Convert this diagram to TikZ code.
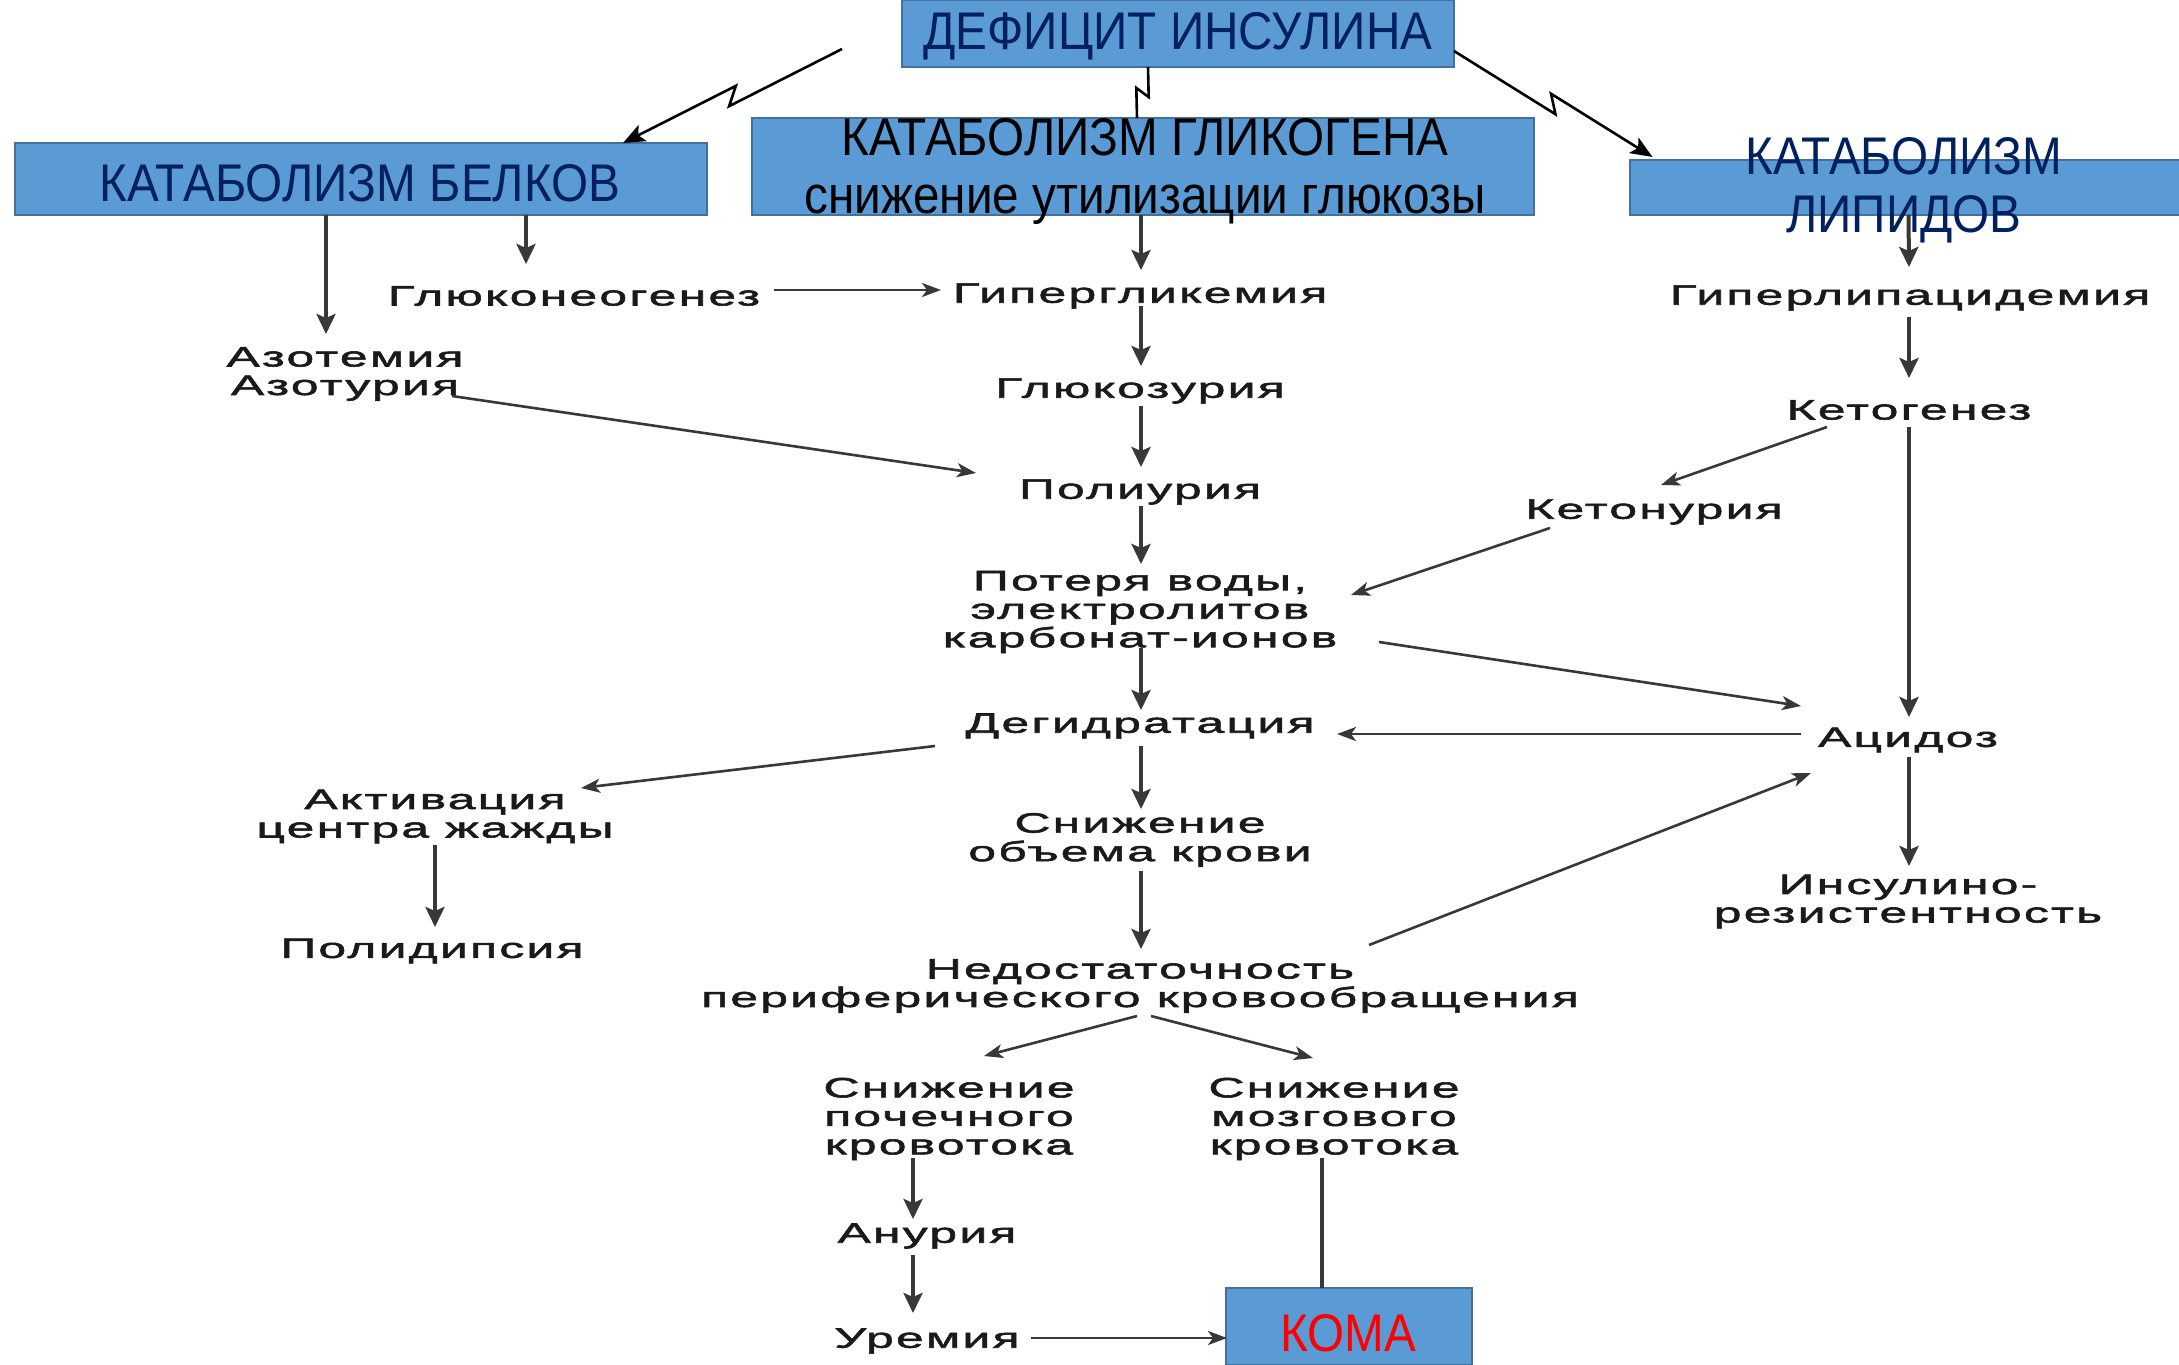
\documentclass[tikz,border=0pt]{standalone}
\usepackage{fontspec}
\setmainfont{Liberation Sans}
\newfontfamily\dfont[FakeStretch=1.78,LetterSpace=8,FakeBold=2]{Liberation Sans}
\newfontfamily\bxfont[FakeStretch=0.9]{Liberation Sans}
\usetikzlibrary{arrows.meta,calc}
\definecolor{boxfill}{HTML}{5B9BD5}
\definecolor{boxedge}{HTML}{41719C}
\definecolor{navy}{HTML}{002060}
\definecolor{lncol}{HTML}{383838}
\definecolor{txcol}{HTML}{1A1A1A}
\begin{document}
\begin{tikzpicture}[x=1pt,y=-1pt,
  bx/.style={draw=boxedge, fill=boxfill, line width=1.8pt, inner sep=0pt},
  bt/.style={font=\bxfont\fontsize{53}{58}\selectfont, align=center, inner sep=0pt},
  tx/.style={font=\dfont\fontsize{28}{28.5}\selectfont, align=center, inner sep=0pt, text=txcol},
  va/.style={draw=lncol, line width=4pt, -{Stealth[length=20pt,width=19pt,inset=4pt]}},
  da/.style={draw=lncol, line width=2.6pt, -{Stealth[length=19pt,width=14pt,inset=5pt]}},
  zz/.style={draw=black, line width=2.6pt}]
\path[fill=white, use as bounding box] (0,0) rectangle (2179,1365);

% ---- boxes
\node[bx, minimum width=552pt, minimum height=67pt] (def) at (1178,33.5) {};
\node[bt, text=navy] (deft) at (1178,36) {ДЕФИЦИТ ИНСУЛИНА};
\node[bx, minimum width=692pt, minimum height=72pt] (belk) at (361,179) {};
\node[bt, text=navy] (belkt) at (360,183) {КАТАБОЛИЗМ БЕЛКОВ};
\node[bx, minimum width=782pt, minimum height=97pt] (glyk) at (1143,166.5) {};
\node[bt, text=black] (glykt) at (1145,171) {КАТАБОЛИЗМ ГЛИКОГЕНА\\снижение утилизации глюкозы};
\node[bx, minimum width=552pt, minimum height=55pt] (lip) at (1906,187.5) {};
\node[bt, text=navy] (lipt) at (1904,190) {КАТАБОЛИЗМ\\ЛИПИДОВ};
\node[bx, minimum width=246pt, minimum height=77pt] (koma) at (1349,1326.5) {};
\node[bt, text=red] (komat) at (1348,1333) {КОМА};

% ---- text nodes
\node[tx] (gng) at (574,296) {Глюконеогенез};
\node[tx] (hgl) at (1140,296) {Гипергликемия};
\node[tx] (hlp) at (1910,298) {Гиперлипацидемия};
\node[tx] (azt) at (345,374) {Азотемия\\Азотурия};
\node[tx] (glz) at (1140,391) {Глюкозурия};
\node[tx] (ktg) at (1909,410) {Кетогенез};
\node[tx] (pol) at (1140,492) {Полиурия};
\node[tx] (ktn) at (1654,512) {Кетонурия};
\node[tx] (pot) at (1140,612) {Потеря воды,\\электролитов\\карбонат-ионов};
\node[tx] (deg) at (1140,726) {Дегидратация};
\node[tx] (acd) at (1908,740) {Ацидоз};
\node[tx] (akt) at (435,816.5) {Активация\\центра жажды};
\node[tx] (snv) at (1140,840) {Снижение\\объема крови};
\node[tx] (ins) at (1908,901.5) {Инсулино-\\резистентность};
\node[tx] (pld) at (432,951) {Полидипсия};
\node[tx] (ned) at (1140,986) {Недостаточность\\периферического кровообращения};
\node[tx] (spk) at (949,1119) {Снижение\\почечного\\кровотока};
\node[tx] (smk) at (1334,1119) {Снижение\\мозгового\\кровотока};
\node[tx] (anu) at (927,1236) {Анурия};
\node[tx] (ure) at (927,1341) {Уремия};

% ---- zigzag connectors from the top box
\coordinate (z1a) at ([shift={(-336,15.5)}]def.center);
\coordinate (z1b) at ([shift={(262,-36)}]belk.center);
\draw[zz,-{Stealth[length=22pt,width=18pt,inset=5pt]}] (z1a) -- ($(z1a)!0.53!(z1b)!8pt!90:(z1b)$) -- ($(z1a)!0.47!(z1b)!8pt!-90:(z1b)$) -- (z1b);
\coordinate (z2a) at ([shift={(-30,33.5)}]def.center);
\coordinate (z2b) at ([shift={(-6,-48.5)}]glyk.center);
\draw[zz] (z2a) -- ($(z2a)!0.56!(z2b)!7pt!90:(z2b)$) -- ($(z2a)!0.44!(z2b)!7pt!-90:(z2b)$) -- (z2b);
\coordinate (z3a) at ([shift={(276,17.5)}]def.center);
\coordinate (z3b) at ([shift={(-253.5,-30.5)}]lip.center);
\draw[zz,-{Stealth[length=22pt,width=18pt,inset=5pt]}] (z3a) -- ($(z3a)!0.53!(z3b)!8pt!-90:(z3b)$) -- ($(z3a)!0.47!(z3b)!8pt!90:(z3b)$) -- (z3b);

% ---- vertical arrows
\draw[va] ([shift={(-35,36)}]belk.center) -- ([shift={(-19,-40)}]azt.center);
\draw[va] ([shift={(165,36)}]belk.center) -- ([shift={(-48,-32)}]gng.center);
\draw[va] ([shift={(-2,48.5)}]glyk.center) -- ([shift={(1,-26)}]hgl.center);
\draw[va] ([shift={(1,10)}]hgl.center) -- ([shift={(1,-25)}]glz.center);
\draw[va] ([shift={(1,15)}]glz.center) -- ([shift={(1,-25)}]pol.center);
\draw[va] ([shift={(1,14)}]pol.center) -- ([shift={(1,-48)}]pot.center);
\draw[va] ([shift={(1,36)}]pot.center) -- ([shift={(1,-16)}]deg.center);
\draw[va] ([shift={(1,20)}]deg.center) -- ([shift={(1,-31)}]snv.center);
\draw[va] ([shift={(1,31)}]snv.center) -- ([shift={(1,-37)}]ned.center);
\draw[va] ([shift={(2.5,27.5)}]lip.center) -- ([shift={(-1,-31)}]hlp.center);
\draw[va] ([shift={(-1,19)}]hlp.center) -- ([shift={(0,-32)}]ktg.center);
\draw[va] ([shift={(0,17)}]ktg.center) -- ([shift={(1,-23)}]acd.center);
\draw[va] ([shift={(1,17)}]acd.center) -- ([shift={(1,-35.5)}]ins.center);
\draw[va] ([shift={(0,28.5)}]akt.center) -- ([shift={(3,-24)}]pld.center);
\draw[va] ([shift={(-36,39)}]spk.center) -- ([shift={(-14,-17)}]anu.center);
\draw[va] ([shift={(-14,19)}]anu.center) -- ([shift={(-14,-28)}]ure.center);
\draw[draw=lncol, line width=4pt] ([shift={(-12,39)}]smk.center) -- ([shift={(-27,-38.5)}]koma.center);

% ---- other arrows
\draw[da] ([shift={(200,-6)}]gng.center) -- ([shift={(-199,-6)}]hgl.center);
\draw[da] ([shift={(107,22)}]azt.center) -- ([shift={(-164,-19)}]pol.center);
\draw[da] ([shift={(-82,17)}]ktg.center) -- ([shift={(7,-27)}]ktn.center);
\draw[da] ([shift={(-104,16)}]ktn.center) -- ([shift={(211,-17)}]pot.center);
\draw[da] ([shift={(239,30)}]pot.center) -- ([shift={(-107,-34)}]acd.center);
\draw[da] ([shift={(-107,-6)}]acd.center) -- ([shift={(197,8)}]deg.center);
\draw[da] ([shift={(-205,20)}]deg.center) -- ([shift={(146,-28.5)}]akt.center);
\draw[da] ([shift={(229,-41)}]ned.center) -- ([shift={(-97,33)}]acd.center);
\draw[da] ([shift={(-3,30)}]ned.center) -- ([shift={(35,-63)}]spk.center);
\draw[da] ([shift={(11,30)}]ned.center) -- ([shift={(-21,-61)}]smk.center);
\draw[da] ([shift={(104,-3)}]ure.center) -- ([shift={(-122,11.5)}]koma.center);
\end{tikzpicture}
\end{document}
